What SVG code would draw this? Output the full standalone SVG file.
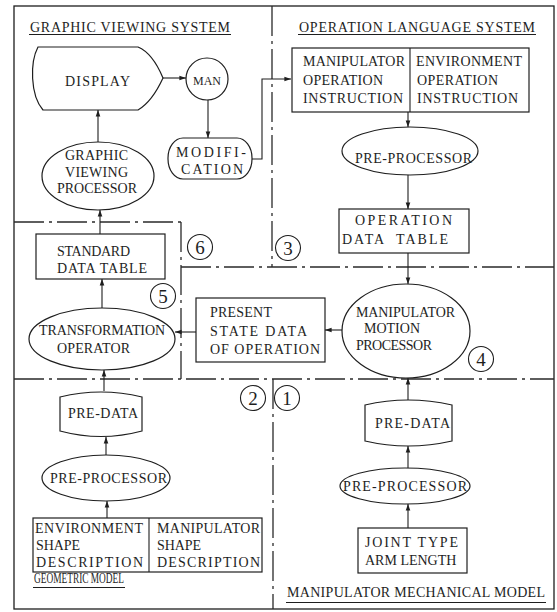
<svg xmlns="http://www.w3.org/2000/svg" width="557" height="612" viewBox="0 0 557 612">
<defs>
<style>
.t{font-family:"Liberation Serif","Times New Roman",serif;font-size:14px;fill:#1e1e1e}
.n{fill:#fff;stroke:#1e1e1e;stroke-width:1.2}
.c{fill:none;stroke:#1e1e1e;stroke-width:1.1}
.b{fill:none;stroke:#1e1e1e;stroke-width:1.3}
.dd{fill:none;stroke:#2a2a2a;stroke-width:1.3;stroke-dasharray:30 5 3 5}
.u{stroke:#1e1e1e;stroke-width:1.1}
.num{fill:none;stroke:#1e1e1e;stroke-width:1.1}
.nt{font-family:"Liberation Serif",serif;font-size:19px;fill:#1e1e1e;text-anchor:middle}
</style>
<marker id="ah" viewBox="0 0 10 10" refX="10" refY="5" markerWidth="6" markerHeight="6" orient="auto"><path d="M0,1.5 L10,5 L0,8.5 z" fill="#1e1e1e"/></marker>
</defs>
<rect width="557" height="612" fill="#fff"/>

<g id="frame">
<rect class="b" x="14" y="6" width="540" height="603"/>
<line class="dd" x1="272" y1="6" x2="272" y2="267"/>
<line class="dd" x1="14" y1="222" x2="181" y2="222"/>
<line class="dd" x1="181" y1="222" x2="181" y2="379"/>
<line class="dd" x1="181" y1="267" x2="554" y2="267"/>
<line class="dd" x1="14" y1="379" x2="554" y2="379"/>
<line class="dd" x1="273" y1="379" x2="273" y2="609"/>
</g>

<g id="titles">
<text class="t" x="30" y="32" textLength="200">GRAPHIC VIEWING SYSTEM</text>
<line class="u" x1="29" y1="34.5" x2="231" y2="34.5"/>
<text class="t" x="299" y="32" textLength="236">OPERATION LANGUAGE SYSTEM</text>
<line class="u" x1="298" y1="34.5" x2="536" y2="34.5"/>
<text class="t" x="34" y="583" textLength="90" lengthAdjust="spacingAndGlyphs">GEOMETRIC MODEL</text>
<line class="u" x1="33" y1="587.5" x2="125" y2="587.5"/>
<text class="t" x="287" y="597" textLength="258">MANIPULATOR MECHANICAL MODEL</text>
<line class="u" x1="286" y1="602.5" x2="546" y2="602.5"/>
</g>

<g id="markers-num">
<circle class="num" cx="200" cy="247" r="12.5"/><text class="nt" x="200" y="254">6</text>
<circle class="num" cx="288" cy="248" r="12.5"/><text class="nt" x="288" y="255">3</text>
<circle class="num" cx="163" cy="296" r="12.5"/><text class="nt" x="163" y="303">5</text>
<circle class="num" cx="481" cy="359" r="12.5"/><text class="nt" x="481" y="366">4</text>
<circle class="num" cx="253" cy="398" r="12.5"/><text class="nt" x="253" y="405">2</text>
<circle class="num" cx="287" cy="398" r="12.5"/><text class="nt" x="287" y="405">1</text>
</g>

<g id="connectors">
<path class="c" d="M163,78 L186,78" marker-end="url(#ah)"/>
<path class="c" d="M208,100 L208,138" marker-end="url(#ah)"/>
<path class="c" d="M252,159 L262,159 L262,79 L291,79" marker-end="url(#ah)"/>
<path class="c" d="M408,112 L408,127" marker-end="url(#ah)"/>
<path class="c" d="M408,175 L408,209" marker-end="url(#ah)"/>
<path class="c" d="M408,253 L408,284" marker-end="url(#ah)"/>
<path class="c" d="M342,330 L325,330" marker-end="url(#ah)"/>
<path class="c" d="M196,332 L175,332" marker-end="url(#ah)"/>
<path class="c" d="M102,308 L102,279" marker-end="url(#ah)"/>
<path class="c" d="M100,234 L100,210" marker-end="url(#ah)"/>
<path class="c" d="M98,142 L98,110" marker-end="url(#ah)"/>
<path class="c" d="M104,391 L104,370" marker-end="url(#ah)"/>
<path class="c" d="M106,455 L106,437" marker-end="url(#ah)"/>
<path class="c" d="M107,518 L107,501" marker-end="url(#ah)"/>
<path class="c" d="M408,400 L408,378" marker-end="url(#ah)"/>
<path class="c" d="M408,468 L408,446" marker-end="url(#ah)"/>
<path class="c" d="M408,528 L408,504" marker-end="url(#ah)"/>
</g>

<g id="display">
<path class="n" d="M38,47 L138,47 C150,52 158,66 163,78 C157,91 150,103 138,110 L43,110 C30,95 30,62 38,47 Z"/>
<text class="t" x="65" y="86" textLength="65">DISPLAY</text>
</g>

<g id="man">
<circle class="n" cx="207" cy="79" r="21"/>
<text class="t" x="193" y="85" textLength="28" style="font-size:12px">MAN</text>
</g>

<g id="modification">
<rect class="n" x="168" y="138" width="84" height="41" rx="15" ry="20"/>
<text class="t" x="176" y="157" textLength="70">MODIFI-</text>
<text class="t" x="181" y="174" textLength="62">CATION</text>
</g>

<g id="graphic-viewing-processor">
<ellipse class="n" cx="98" cy="176" rx="56" ry="34"/>
<text class="t" x="65" y="160" textLength="63">GRAPHIC</text>
<text class="t" x="65" y="177" textLength="63">VIEWING</text>
<text class="t" x="57" y="193" textLength="80">PROCESSOR</text>
</g>

<g id="standard-data-table">
<rect class="n" x="36" y="234" width="129" height="45"/>
<text class="t" x="57" y="256" textLength="73">STANDARD</text>
<text class="t" x="57" y="273" textLength="90">DATA TABLE</text>
</g>

<g id="transformation-operator">
<ellipse class="n" cx="102" cy="339" rx="73" ry="31"/>
<text class="t" x="39" y="335" textLength="126">TRANSFORMATION</text>
<text class="t" x="57" y="353" textLength="73">OPERATOR</text>
</g>

<g id="present-state">
<rect class="n" x="196" y="298" width="129" height="64"/>
<text class="t" x="210" y="317" textLength="62">PRESENT</text>
<text class="t" x="210" y="336" textLength="97">STATE DATA</text>
<text class="t" x="210" y="354" textLength="110">OF OPERATION</text>
</g>

<g id="operation-instruction">
<rect class="n" x="292" y="48" width="237" height="64"/>
<line class="c" x1="410" y1="48" x2="410" y2="112"/>
<text class="t" x="303" y="66" textLength="102">MANIPULATOR</text>
<text class="t" x="303" y="85" textLength="80">OPERATION</text>
<text class="t" x="303" y="103" textLength="100">INSTRUCTION</text>
<text class="t" x="416" y="66" textLength="106">ENVIRONMENT</text>
<text class="t" x="417" y="85" textLength="81">OPERATION</text>
<text class="t" x="417" y="103" textLength="101">INSTRUCTION</text>
</g>

<g id="pre-processor-op">
<ellipse class="n" cx="410" cy="151" rx="68" ry="24"/>
<text class="t" x="355" y="163" textLength="117">PRE-PROCESSOR</text>
</g>

<g id="operation-data-table">
<rect class="n" x="339" y="209" width="130" height="44"/>
<text class="t" x="355" y="225" textLength="97">OPERATION</text>
<text class="t" x="342" y="244" textLength="106" xml:space="preserve">DATA  TABLE</text>
</g>

<g id="manipulator-motion-processor">
<ellipse class="n" cx="406" cy="331" rx="64" ry="47"/>
<text class="t" x="356" y="317" textLength="99">MANIPULATOR</text>
<text class="t" x="364" y="333">MOTION</text>
<text class="t" x="356" y="350" textLength="76">PROCESSOR</text>
</g>

<g id="pre-data-geo">
<path class="n" d="M60,397 Q101,387 142,397 L142,431 Q101,442 60,431 Z"/>
<text class="t" x="68" y="418" textLength="70">PRE-DATA</text>
</g>

<g id="pre-processor-geo">
<ellipse class="n" cx="106" cy="478" rx="64" ry="23"/>
<text class="t" x="50" y="483" textLength="117">PRE-PROCESSOR</text>
</g>

<g id="shape-description">
<rect class="n" x="33" y="518" width="229" height="54"/>
<line class="c" x1="149" y1="518" x2="149" y2="572"/>
<text class="t" x="35" y="533" textLength="108">ENVIRONMENT</text>
<text class="t" x="36" y="550" textLength="44">SHAPE</text>
<text class="t" x="36" y="567" textLength="107">DESCRIPTION</text>
<text class="t" x="157" y="533" textLength="103">MANIPULATOR</text>
<text class="t" x="157" y="550" textLength="44">SHAPE</text>
<text class="t" x="157" y="567" textLength="103">DESCRIPTION</text>
</g>

<g id="pre-data-mech">
<path class="n" d="M365,405 Q408,395 452,405 L452,441 Q408,451 365,441 Z"/>
<text class="t" x="375" y="428" textLength="75">PRE-DATA</text>
</g>

<g id="pre-processor-mech">
<ellipse class="n" cx="405" cy="486" rx="65" ry="18"/>
<text class="t" x="343" y="491" textLength="124">PRE-PROCESSOR</text>
</g>

<g id="joint-arm">
<rect class="n" x="358" y="528" width="109" height="45"/>
<text class="t" x="365" y="547" textLength="93">JOINT TYPE</text>
<text class="t" x="365" y="565">ARM LENGTH</text>
</g>
</svg>
